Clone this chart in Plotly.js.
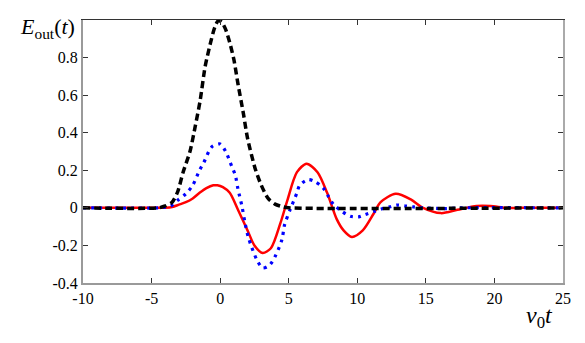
<!DOCTYPE html>
<html>
<head>
<meta charset="utf-8">
<script src="https://cdn.plot.ly/plotly-3.0.1.min.js"></script>
<style>
  html, body { margin: 0; padding: 0; background: #fff; }
  #chart { width: 585px; height: 343px; }
  #chart svg text { font-family: "Liberation Serif", serif !important; }
</style>
</head>
<body>
<div id="chart"></div>
<script>
// values
const redX = [-10, -5, -4, -3.5, -3, -2.5, -2, -1.5, -1, -0.5, -0.2, 0.2, 0.7, 1.3, 2, 2.5, 3.1, 3.7, 4.4, 4.9, 5.6, 6.3, 7.1, 7.8, 8.5, 9, 9.6, 10.4, 11.2, 11.7, 12.8, 13.9, 14.8, 16.1, 17.3, 18.7, 19.7, 20.9, 22, 25];
const redY = [0, 0, 0.001, 0.005, 0.017, 0.03, 0.05, 0.08, 0.105, 0.12, 0.12, 0.11, 0.08, -0.01, -0.12, -0.2, -0.24, -0.215, -0.08, 0.04, 0.19, 0.235, 0.19, 0.08, -0.06, -0.12, -0.155, -0.12, -0.03, 0.03, 0.075, 0.045, 0, -0.028, -0.01, 0.01, 0.01, 0, 0, 0];

const blueX = [-10, -4.5, -4, -3.6, -3.1, -2.5, -2, -1.5, -1.2, -0.6, 0, 0.4, 0.85, 1.1, 1.3, 1.6, 1.8, 2.05, 2.3, 2.7, 3.1, 3.6, 4, 4.5, 4.7, 5.1, 5.6, 5.8, 6.4, 6.9, 7.5, 7.9, 8.25, 8.9, 9.5, 10.1, 10.6, 11.2, 11.8, 12.4, 12.9, 13.5, 14.1, 14.7, 15.8, 16.4, 17.5, 25];
const blueY = [0, 0, 0.004, 0.01, 0.04, 0.075, 0.12, 0.2, 0.24, 0.325, 0.34, 0.3, 0.22, 0.175, 0.1, 0.005, -0.075, -0.155, -0.21, -0.28, -0.32, -0.305, -0.26, -0.17, -0.09, -0.01, 0.08, 0.12, 0.15, 0.14, 0.107, 0.06, 0.02, -0.02, -0.045, -0.048, -0.035, -0.02, -0.005, 0.006, 0.015, 0.01, 0.005, 0, -0.003, -0.004, 0, 0];

const blackX = [-10, -4.5, -4, -3.5, -3.1, -2.7, -2.2, -1.8, -1.46, -1.1, -0.73, -0.4, -0.15, 0.1, 0.4, 0.7, 1.0, 1.3, 1.7, 2.0, 2.55, 3, 3.5, 4, 4.6, 5, 25];
const blackY = [0, 0, 0.01, 0.03, 0.085, 0.19, 0.3, 0.44, 0.57, 0.75, 0.87, 0.96, 0.995, 0.99, 0.95, 0.88, 0.79, 0.66, 0.5, 0.37, 0.21, 0.12, 0.05, 0.02, 0.005, 0, 0];

const xTicks = [-10, -5, 0, 5, 10, 15, 20, 25];
const xTickText = ['-10', '-5', '0', '5', '10', '15', '20', '25'];
const yTicks = [-0.4, -0.2, 0, 0.2, 0.4, 0.6, 0.8];
const yTickText = ['-0.4', '-0.2', '0', '0.2', '0.4', '0.6', '0.8'];

const serif = 'Liberation Serif';

const traces = [
    {
        x: redX, y: redY, mode: 'lines', type: 'scatter',
        line: { color: '#ff0000', width: 2.5, shape: 'spline', smoothing: 0.8 },
        hoverinfo: 'skip', showlegend: false
    },
    {
        x: blueX, y: blueY, mode: 'lines', type: 'scatter',
        line: { color: '#0000ff', width: 3.2, dash: '3px,5px', shape: 'spline', smoothing: 0.8 },
        hoverinfo: 'skip', showlegend: false
    },
    {
        x: blackX, y: blackY, mode: 'lines', type: 'scatter',
        line: { color: '#000000', width: 3.5, dash: '7px,4px', shape: 'spline', smoothing: 0.7 },
        hoverinfo: 'skip', showlegend: false
    },
    // empty trace so the mirrored top / right axes get drawn
    { x: [], y: [], xaxis: 'x2', yaxis: 'y2', type: 'scatter', showlegend: false, hoverinfo: 'skip' }
];

const layout = {
    width: 585,
    height: 343,
    margin: { l: 83, r: 22, t: 20, b: 60 },
    paper_bgcolor: '#fff',
    plot_bgcolor: '#fff',
    font: { family: serif, size: 16, color: '#000' },
    xaxis: {
        range: [-10, 25],
        tickvals: xTicks, ticktext: xTickText,
        ticks: 'inside', ticklen: 5, tickcolor: '#333', tickwidth: 1,
        showline: true, linecolor: '#9a9a9a', linewidth: 2,
        showgrid: false, zeroline: false,
        tickfont: { family: serif, size: 16, color: '#000' }
    },
    yaxis: {
        range: [-0.4, 1.0],
        tickvals: yTicks, ticktext: yTickText,
        ticks: 'inside', ticklen: 5, tickcolor: '#333', tickwidth: 1,
        showline: true, linecolor: '#9a9a9a', linewidth: 2,
        showgrid: false, zeroline: false,
        tickfont: { family: serif, size: 16, color: '#000' }
    },
    xaxis2: {
        overlaying: 'x', side: 'top', range: [-10, 25],
        tickvals: xTicks, showticklabels: false,
        ticks: 'inside', ticklen: 5, tickcolor: '#333',
        showline: true, linecolor: '#333', linewidth: 1,
        showgrid: false, zeroline: false
    },
    yaxis2: {
        overlaying: 'y', side: 'right', range: [-0.4, 1.0],
        tickvals: yTicks, showticklabels: false,
        ticks: 'inside', ticklen: 5, tickcolor: '#333',
        showline: true, linecolor: '#aaaaaa', linewidth: 2,
        showgrid: false, zeroline: false
    },
    annotations: [
        {
            xref: 'paper', yref: 'paper', x: -0.135, y: 0.97,
            xanchor: 'left', yanchor: 'middle', showarrow: false,
            text: '<i>E</i><sub>out</sub>(<i>t</i>)',
            font: { family: serif, size: 22, color: '#000' }
        },
        {
            xref: 'paper', yref: 'paper', x: 0.952, y: -0.13,
            xanchor: 'center', yanchor: 'middle', showarrow: false,
            text: '<i>v</i><sub>0</sub><i>t</i>',
            font: { family: serif, size: 24, color: '#000' }
        }
    ]
};

Plotly.newPlot('chart', traces, layout, { displayModeBar: false, staticPlot: true });
</script>
</body>
</html>
